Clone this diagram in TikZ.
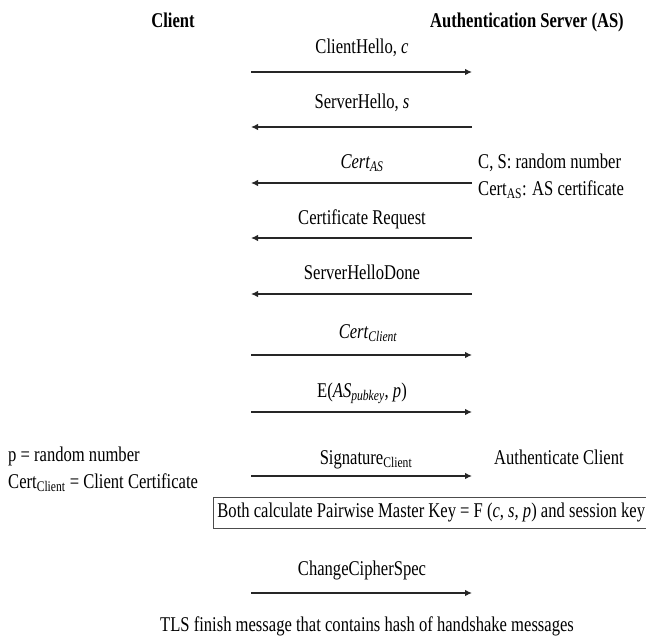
\documentclass[tikz,border=0pt]{standalone}
\usepackage{fontspec}
\setmainfont{Liberation Serif}[FakeStretch=0.79]
\usetikzlibrary{arrows.meta}

\begin{document}
\begin{tikzpicture}[x=1pt,y=-1pt,font=\fontsize{21}{25}\selectfont,
  msg/.style={draw=black!85,line width=1.2pt,-{Latex[length=7pt,width=6.5pt]}},
  lbl/.style={anchor=base,inner sep=0pt},
  note/.style={anchor=base west,inner sep=0pt}]

\useasboundingbox (0,0) rectangle (646,638);

% Horizontal extent of the messages (client side, server side)
\def \xc{ 251 }
\def \xs{ 472 }
\def \xm{ 362 } % middle, where the labels sit

% Both ends of every message
\foreach \i/\y in {1/72,2/127,3/183,4/238,5/294,6/355,7/412,8/476,9/593}{
  \coordinate (C\i) at (\xc,\y);
  \coordinate (S\i) at (\xs,\y);
}

% The two parties
\node[lbl] (client) at (173,27) {\bfseries Client};
\node[lbl] (server) at (527,27) {\bfseries Authentication Server (AS)};

% Messages from client to server
\draw[msg] (C1) -- (S1);
\draw[msg] (C6) -- (S6);
\draw[msg] (C7) -- (S7);
\draw[msg] (C8) -- (S8);
\draw[msg] (C9) -- (S9);

% Messages from server to client
\draw[msg] (S2) -- (C2);
\draw[msg] (S3) -- (C3);
\draw[msg] (S4) -- (C4);
\draw[msg] (S5) -- (C5);

% Message names
\node[lbl] (hello)   at (\xm,53)  {ClientHello, \textit{c}};
\node[lbl] (shello)  at (\xm,108) {ServerHello, \textit{s}};
\node[lbl] (certas)  at (\xm,168) {\textit{Cert\textsubscript{AS}}};
\node[lbl] (certreq) at (\xm,224) {Certificate Request};
\node[lbl] (done)    at (\xm,279) {ServerHelloDone};
\node[lbl] (certcl)  at (368,338) {\textit{Cert\textsubscript{Client}}};
\node[lbl] (encr)    at (\xm,397) {E(\textit{AS\textsubscript{pubkey}}, \textit{p})};
\node[lbl] (sign)    at (366,464) {Signature\textsubscript{Client}};
\node[lbl] (ccs)     at (\xm,575) {ChangeCipherSpec};

% Notes on either side
\node[note] (rnd)   at (478,168) {C, S: random number};
\node[note] (asc)   at (478,195) {Cert\textsubscript{AS}: AS certificate};
\node[note] (auth)  at (494,464) {Authenticate Client};
\node[note] (prnd)  at (8,461)   {p = random number};
\node[note] (clc)   at (8,488)   {Cert\textsubscript{Client} = Client Certificate};

% Key derivation, done by both
\node[draw=black!70,line width=0.8pt,minimum height=31pt,inner xsep=4pt,
      anchor=west] (pmk) at (213,512.5)
  {Both calculate Pairwise Master Key = F (\textit{c, s, p}) and session key};

% Closing text
\node[lbl] (fin) at (367,631) {TLS finish message that contains hash of handshake messages};
\end{tikzpicture}
\end{document}
